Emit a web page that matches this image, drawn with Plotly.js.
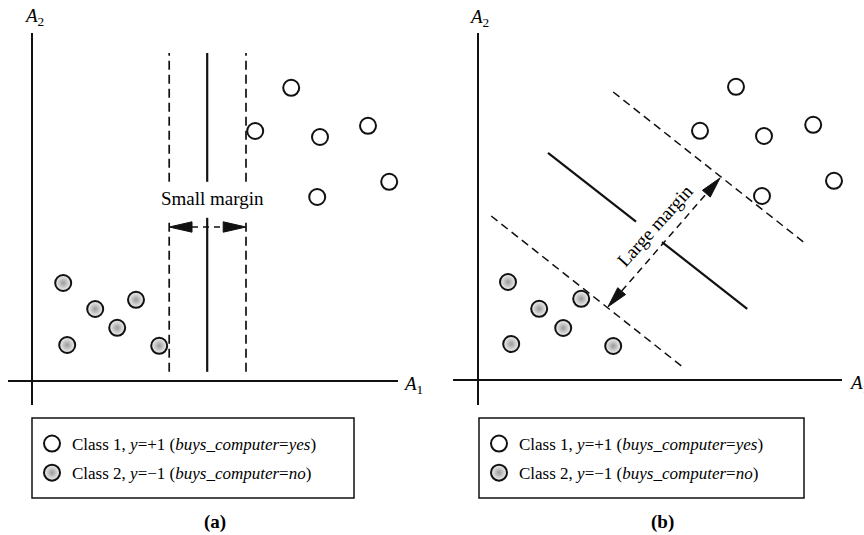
<!DOCTYPE html>
<html><head><meta charset="utf-8">
<script src="https://cdn.plot.ly/plotly-3.0.1.min.js"></script>
<style>html,body{margin:0;padding:0;background:#fff}</style>
</head><body><div id="chart" style="width:864px;height:535px"></div>
<script>
// ---------- Panel (a): small margin ----------
const class1A_x = [6.48, 5.58, 7.20, 8.40, 8.93, 7.13];
const class1A_y = [7.33, 6.25, 6.10, 6.38, 4.98, 4.60];
const class2A_x = [0.78, 1.58, 2.60, 2.13, 0.88, 3.18];
const class2A_y = [2.45, 1.80, 2.03, 1.33, 0.90, 0.88];
const marginA_x = [3.43, 5.35];      // margin hyperplanes (vertical)
const hyperA_x = 4.38;               // separating hyperplane
const linesA_y = [0.23, 8.20];       // vertical extent of the hyperplanes
const gapA_y = [4.08, 4.98];         // break around the label
const arrowA_y = 3.85;               // height of the margin arrow

// ---------- Panel (b): large margin ----------
const class1B_x = [6.45, 5.55, 7.15, 8.38, 8.90, 7.10];
const class1B_y = [7.33, 6.23, 6.10, 6.38, 4.98, 4.60];
const class2B_x = [0.75, 1.53, 2.58, 2.13, 0.83, 3.38];
const class2B_y = [2.45, 1.78, 2.03, 1.30, 0.90, 0.85];
const upperMarginB_x = [3.38, 8.20], upperMarginB_y = [7.20, 3.40];
const lowerMarginB_x = [0.33, 5.15], lowerMarginB_y = [4.10, 0.30];
const hyperB_x = [1.75, 6.73], hyperB_y = [5.68, 1.78];
const hyperB_gapX = [3.95, 4.60];
const arrowB_x = [3.25, 6.05], arrowB_y = [1.83, 5.05];

// ---------- Text ----------
const legendLabels = [
  'Class 1, <i>y</i>=+1 (<i>buys_computer</i>=<i>yes</i>)',
  'Class 2, <i>y</i>=\u22121 (<i>buys_computer</i>=<i>no</i>)'
];
const marginLabels = ['Small margin', 'Large margin'];
const panelLabels = ['(a)', '(b)'];
const axisLabels = ['<i>A</i><sub>1</sub>', '<i>A</i><sub>2</sub>'];

// ---------- Styling helpers ----------
const W = 864, H = 535;
const px = v => v / W, py = v => 1 - v / H;
const FONT = 'Liberation Serif, "DejaVu Serif", serif';
const INK = '#111';

function interpY(xs, ys, x) { return ys[0] + (ys[1] - ys[0]) * (x - xs[0]) / (xs[1] - xs[0]); }
// arrowhead triangles (axes are isotropic: same px per unit)
function heads(x0, y0, x1, y1, len, half) {
  const dx = x1 - x0, dy = y1 - y0, L = Math.hypot(dx, dy);
  const ux = dx / L, uy = dy / L, nx = -uy, ny = ux;
  const tri = (tx, ty, sx, sy) => {
    const bx = tx - sx * len, by = ty - sy * len;
    return [[tx, bx + nx * half, bx - nx * half, tx, null], [ty, by + ny * half, by - ny * half, ty, null]];
  };
  const a = tri(x0, y0, -ux, -uy), b = tri(x1, y1, ux, uy);
  return { x: a[0].concat(b[0]), y: a[1].concat(b[1]),
           shaft: { x: [x0 + ux * len, x1 - ux * len], y: [y0 + uy * len, y1 - uy * len] } };
}

const openMarker = { size: 16, color: 'white', line: { width: 2, color: INK } };
const greyMarker = { size: 16, color: '#f4f4f4', gradient: { type: 'radial', color: '#9a9a9a' }, line: { width: 2, color: INK } };

const traces = [];
function pts(xs, ys, marker, name, xa, ya, legend, group) {
  traces.push({ type: 'scatter', mode: 'markers', x: xs, y: ys, xaxis: xa, yaxis: ya, marker: marker,
    name: name, legend: legend, legendgroup: group, showlegend: true, hoverinfo: 'skip', cliponaxis: false });
}
function line(xs, ys, xa, ya, width, dash) {
  traces.push({ type: 'scatter', mode: 'lines', x: xs, y: ys, xaxis: xa, yaxis: ya,
    line: { color: INK, width: width, dash: dash }, showlegend: false, hoverinfo: 'skip' });
}
function fillTri(xs, ys, xa, ya) {
  traces.push({ type: 'scatter', mode: 'lines', x: xs, y: ys, xaxis: xa, yaxis: ya, fill: 'toself',
    fillcolor: INK, line: { color: INK, width: 1 }, showlegend: false, hoverinfo: 'skip' });
}

// Panel (a) lines
const vA = (x) => [x, x, null, x, x];
const vAy = [linesA_y[0], gapA_y[0], null, gapA_y[1], linesA_y[1]];
line(vA(marginA_x[0]).concat([null], vA(marginA_x[1])), vAy.concat([null], vAy), 'x', 'y', 1.7, '9px,5px');
line(vA(hyperA_x), vAy, 'x', 'y', 2.2, 'solid');
const hA = heads(marginA_x[0], arrowA_y, marginA_x[1], arrowA_y, 0.57, 0.13);
line(hA.shaft.x, hA.shaft.y, 'x', 'y', 1.5, '6px,5px');
fillTri(hA.x, hA.y, 'x', 'y');

// Panel (b) lines
line(upperMarginB_x.concat([null], lowerMarginB_x), upperMarginB_y.concat([null], lowerMarginB_y), 'x2', 'y2', 1.5, '8px,5px');
line([hyperB_x[0], hyperB_gapX[0], null, hyperB_gapX[1], hyperB_x[1]],
     [hyperB_y[0], interpY(hyperB_x, hyperB_y, hyperB_gapX[0]), null, interpY(hyperB_x, hyperB_y, hyperB_gapX[1]), hyperB_y[1]],
     'x2', 'y2', 2.2, 'solid');
const hB = heads(arrowB_x[0], arrowB_y[0], arrowB_x[1], arrowB_y[1], 0.52, 0.13);
line(hB.shaft.x, hB.shaft.y, 'x2', 'y2', 1.5, '7px,5px');
fillTri(hB.x, hB.y, 'x2', 'y2');

// Points
pts(class1A_x, class1A_y, openMarker, legendLabels[0], 'x', 'y', 'legend', 'a1');
pts(class2A_x, class2A_y, greyMarker, legendLabels[1], 'x', 'y', 'legend', 'a2');
pts(class1B_x, class1B_y, openMarker, legendLabels[0], 'x2', 'y2', 'legend2', 'b1');
pts(class2B_x, class2B_y, greyMarker, legendLabels[1], 'x2', 'y2', 'legend2', 'b2');

const axCommon = { showgrid: false, zeroline: true, zerolinecolor: INK, showticklabels: false,
  ticks: '', showline: false, fixedrange: true };
const legendCommon = { font: { family: FONT, size: 17, color: '#000' }, bgcolor: 'rgba(0,0,0,0)',
  borderwidth: 0, xanchor: 'left', yanchor: 'top', tracegroupgap: 4, itemclick: false, itemdoubleclick: false };

const ann = (text, x, y, xref, yref, size, extra) => Object.assign({ text: text, x: x, y: y, xref: xref, yref: yref,
  showarrow: false, xanchor: 'center', yanchor: 'middle', font: { family: FONT, size: size, color: '#000' } }, extra || {});

const layout = {
  width: W, height: H, margin: { l: 0, r: 0, t: 0, b: 0 },
  paper_bgcolor: 'white', plot_bgcolor: 'white', showlegend: true,
  xaxis: Object.assign({ domain: [px(8), px(398)], range: [-0.6, 9.15], anchor: 'y', zerolinewidth: 1.5 }, axCommon),
  yaxis: Object.assign({ domain: [py(405), py(33)], range: [-0.6, 8.7], anchor: 'x', zerolinewidth: 1.5 }, axCommon),
  xaxis2: Object.assign({ domain: [px(453), px(842)], range: [-0.625, 9.1], anchor: 'y2', zerolinewidth: 2 }, axCommon),
  yaxis2: Object.assign({ domain: [py(405), py(33)], range: [-0.625, 8.675], anchor: 'x2', zerolinewidth: 2 }, axCommon),
  legend: Object.assign({ x: px(32), y: py(426) }, legendCommon),
  legend2: Object.assign({ x: px(479), y: py(426) }, legendCommon),
  shapes: [
    { type: 'rect', xref: 'paper', yref: 'paper', x0: px(32), x1: px(354), y0: py(498), y1: py(418), line: { color: INK, width: 1.5 } },
    { type: 'rect', xref: 'paper', yref: 'paper', x0: px(479), x1: px(804), y0: py(498), y1: py(418), line: { color: INK, width: 1.5 } }
  ],
  annotations: [
    ann(marginLabels[0], 4.5, 4.55, 'x', 'y', 19),
    ann(marginLabels[1], 4.43, 3.85, 'x2', 'y2', 19, { textangle: -48 }),
    ann(axisLabels[1], px(34), py(17), 'paper', 'paper', 19),
    ann(axisLabels[0], px(413), py(385), 'paper', 'paper', 19),
    ann(axisLabels[1], px(479), py(18), 'paper', 'paper', 19),
    ann(axisLabels[0], px(859), py(384), 'paper', 'paper', 19),
    ann('<b>' + panelLabels[0] + '</b>', px(215), py(522), 'paper', 'paper', 19),
    ann('<b>' + panelLabels[1] + '</b>', px(662), py(522), 'paper', 'paper', 19)
  ]
};

Plotly.newPlot('chart', traces, layout, { displayModeBar: false, staticPlot: true });
</script></body></html>
